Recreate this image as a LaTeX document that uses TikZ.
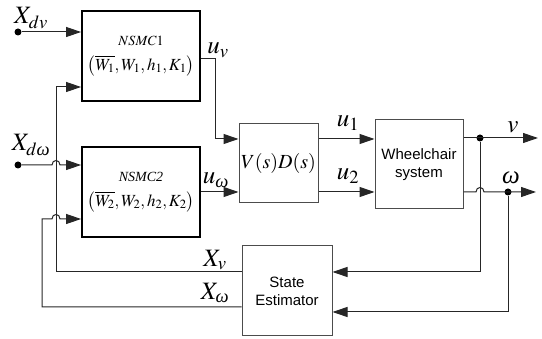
\documentclass[tikz,border=0pt]{standalone}
\usepackage{mathptmx}
\usepackage{amsmath}
\usepackage{fontspec}
\setmainfont{Liberation Serif}
\setsansfont{Liberation Sans}
\usetikzlibrary{arrows.meta, calc}

\newcommand{\omg}{\text{\itshape ω}}

\begin{document}
\begin{tikzpicture}[
  x=1pt, y=-1pt,
  blk/.style={draw=black!70, line width=1pt, inner sep=0pt, align=center},
  ctrl/.style={blk, draw=black, line width=1.8pt, minimum width=118pt, minimum height=90pt, font=\fontsize{14}{16}\selectfont},
  plant/.style={blk, font=\sffamily\fontsize{15}{18}\selectfont},
  sig/.style={line width=1pt, draw=black!85},
  arrow/.style={sig, -{Triangle[length=15pt, width=10pt]}},
  dot/.style={circle, fill=black, inner sep=0pt, minimum size=7pt},
  lab/.style={inner sep=0pt, font=\fontsize{25}{28}\selectfont}
]
\useasboundingbox (0,0) rectangle (542,339);

% === BLOCKS ===
\node[ctrl] (nsmc1) at (141,56)
  {$NSMC1$\\[9pt]{\fontsize{17}{20}\selectfont$\left(\overline{W_1},W_1,h_1,K_1\right)$}};
\node[ctrl] (nsmc2) at (141,192)
  {\textit{NSMC2}\\[9pt]{\fontsize{17}{20}\selectfont$\left(\overline{W_2},W_2,h_2,K_2\right)$}};
\node[blk, minimum width=79pt, minimum height=79pt, font=\fontsize{20}{24}\selectfont] (vd) at (278.5,163.5) {$V(s)D(s)$};
\node[plant, minimum width=88pt, minimum height=89pt] (wc) at (419,164.5) {Wheelchair\\system};
\node[plant, minimum width=90pt, minimum height=90pt] (se) at (287,291) {State\\Estimator};

% === DOTS AND CORNERS ===
\node[dot] (xdv) at (18,32) {};
\node[dot] (xdw) at (18,165) {};
\node[dot] (vdot) at (480,138) {};
\node[dot] (wdot) at (508,192) {};
\coordinate (vend) at (538,138);
\coordinate (wend) at (536,192);
\coordinate (bend1) at (56,87);
\coordinate (bend2) at (42,219);
\coordinate (uvc) at (215,59);
\coordinate (u1y) at (0,139);
\coordinate (u2y) at (0,192);
\coordinate (xvy) at (0,272);
\coordinate (xwy) at (0,307);
\coordinate (wfy) at (0,312);

% === REFERENCE INPUTS ===
\draw[arrow] (xdv) -- (xdv -| nsmc1.west);
\draw[arrow] (xdw) -- ($(xdw -| bend1)-(4,0)$) .. controls +(0,-6) and +(0,-6) .. ++(8,0) -- (xdw -| nsmc2.west);

% === FEEDBACK TO CONTROLLERS ===
\draw[arrow] (se.west |- xvy) -| (bend1) -- (bend1 -| nsmc1.west);
\draw[arrow] (se.west |- xwy) -| (bend2) -- ($(bend2 -| bend1)-(4,0)$) .. controls +(0,-6) and +(0,-6) .. ++(8,0) -- (bend2 -| nsmc2.west);

% === CONTROL SIGNALS ===
\draw[arrow] (nsmc1.east |- uvc) -- (uvc) |- (vd.west |- u1y);
\draw[arrow] (nsmc2.east |- u2y) -- (vd.west |- u2y);
\draw[arrow] (vd.east |- u1y) -- (wc.west |- u1y);
\draw[arrow] (vd.east |- u2y) -- (wc.west |- u2y);

% === OUTPUTS ===
\draw[arrow] (wc.east |- vdot) -- (vend);
\draw[arrow] (wc.east |- wdot) -- ($(wdot -| vdot)-(4,0)$) .. controls +(0,-6) and +(0,-6) .. ++(8,0) -- (wend);
\draw[arrow] (vdot) |- (se.east |- xvy);
\draw[arrow] (wdot) |- (se.east |- wfy);

% === LABELS ===
\node[lab] (lxdv) at (31,18) {$X_{dv}$};
\node[lab] (lxdw) at (31,145) {$X_{d\omg}$};
\node[lab] (luv) at (218,50) {$u_v$};
\node[lab] (luw) at (216,180) {$u_{\omg}$};
\node[lab] (lu1) at (348,123) {$u_1$};
\node[lab] (lu2) at (348,176) {$u_2$};
\node[lab] (lv) at (513,127) {$v$};
\node[lab] (lw) at (511,178) {$\omg$};
\node[lab] (lxv) at (215,260) {$X_v$};
\node[lab] (lxw) at (215,293) {$X_{\omg}$};

\end{tikzpicture}
\end{document}
